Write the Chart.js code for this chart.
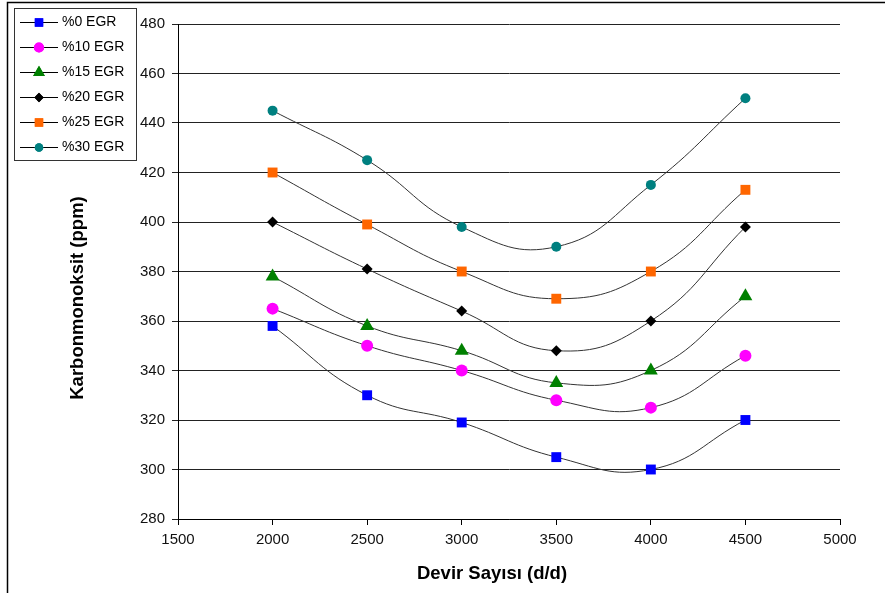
<!DOCTYPE html>
<html><head><meta charset="utf-8">
<script src="https://cdn.jsdelivr.net/npm/chart.js@4"></script>
<style>html,body{margin:0;padding:0;background:#fff}</style>
</head><body>
<canvas id="c" width="885" height="593" style="width:885px;height:593px;display:block"></canvas>
<script>
const rpm = [2000, 2500, 3000, 3500, 4000, 4500];
const seriesLabels = ['%0 EGR', '%10 EGR', '%15 EGR', '%20 EGR', '%25 EGR', '%30 EGR'];
const egr0  = [358, 330, 319, 305, 300, 320];
const egr10 = [365, 350, 340, 328, 325, 346];
const egr15 = [378, 358, 348, 335, 340, 370];
const egr20 = [400, 381, 364, 348, 360, 398];
const egr25 = [420, 399, 380, 369, 380, 413];
const egr30 = [445, 425, 398, 390, 415, 450];
const xTickValues = [1500, 2000, 2500, 3000, 3500, 4000, 4500, 5000];
const yTickValues = [280, 300, 320, 340, 360, 380, 400, 420, 440, 460, 480];
const xTitle = 'Devir Sayısı (d/d)';
const yTitle = 'Karbonmonoksit (ppm)';

const FONT = "'Liberation Sans', Arial, sans-serif";
const styles = [
  {color: '#0000FF', style: 'rect', r: 7},
  {color: '#FF00FF', style: 'circle', r: 6},
  {color: '#008000', style: 'triangle', r: 8},
  {color: '#000000', style: 'rectRot', r: 5.5},
  {color: '#FF6600', style: 'rect', r: 7},
  {color: '#008080', style: 'circle', r: 5}
];
const allSeries = [egr0, egr10, egr15, egr20, egr25, egr30];

const datasets = allSeries.map((vals, i) => ({
  label: seriesLabels[i],
  data: rpm.map((x, j) => ({x: x, y: vals[j]})),
  borderColor: '#333333',
  borderWidth: 1,
  backgroundColor: styles[i].color,
  pointBackgroundColor: styles[i].color,
  pointBorderColor: styles[i].color,
  pointBorderWidth: 0,
  pointStyle: styles[i].style,
  pointRadius: styles[i].r,
  tension: 0.45,
  showLine: true,
  fill: false
}));

const frameAndLegend = {
  id: 'frameAndLegend',
  afterDraw(chart) {
    const ctx = chart.ctx;
    ctx.save();
    ctx.strokeStyle = '#000';
    ctx.lineWidth = 1.5;
    ctx.beginPath();
    ctx.moveTo(7.5, 593);
    ctx.lineTo(7.5, 2.5);
    ctx.lineTo(885, 2.5);
    ctx.stroke();
    // axis titles
    ctx.fillStyle = '#000';
    ctx.font = 'bold 18.5px ' + FONT;
    ctx.textAlign = 'center';
    ctx.textBaseline = 'middle';
    ctx.fillText(xTitle, 492, 574);
    ctx.save();
    ctx.translate(78, 298);
    ctx.rotate(-Math.PI / 2);
    ctx.fillText(yTitle, 0, 0);
    ctx.restore();
    // legend
    ctx.textAlign = 'left';
    ctx.lineWidth = 1;
    ctx.strokeStyle = '#333';
    ctx.strokeRect(14.5, 8.5, 122, 152);
    ctx.font = '14px ' + FONT;
    chart.data.datasets.forEach((ds, i) => {
      const y = 22 + i * 25;
      ctx.strokeStyle = '#000';
      ctx.lineWidth = 1;
      ctx.beginPath();
      ctx.moveTo(20, y + 0.5);
      ctx.lineTo(58, y + 0.5);
      ctx.stroke();
      ctx.fillStyle = ds.pointBackgroundColor;
      ctx.strokeStyle = ds.pointBorderColor;
      Chart.helpers.drawPoint(ctx, {pointStyle: ds.pointStyle, radius: ds.pointRadius * 0.85, rotation: 0, borderWidth: 0}, 39, y + 0.5);
      ctx.fill();
      ctx.fillStyle = '#000';
      ctx.fillText(ds.label, 62, y);
    });
    ctx.restore();
  }
};

new Chart(document.getElementById('c'), {
  type: 'scatter',
  data: {datasets},
  options: {
    responsive: false,
    devicePixelRatio: 1,
    animation: false,
    layout: {padding: {left: 0, top: 24, right: 45, bottom: 0}},
    plugins: {legend: {display: false}, tooltip: {enabled: false}},
    scales: {
      x: {
        type: 'linear',
        min: 1500, max: 5000,
        afterFit(s) { s.height = 74; },
        afterBuildTicks(s) { s.ticks = xTickValues.map(v => ({value: v})); },
        ticks: {color: '#111', font: {family: FONT, size: 15}, padding: 6, maxRotation: 0,
                callback: v => String(v)},
        grid: {drawOnChartArea: false, drawTicks: true, tickLength: 6, color: '#000'},
        border: {display: true, color: '#000', width: 1},
        title: {display: false, text: xTitle}
      },
      y: {
        type: 'linear',
        min: 280, max: 480,
        afterFit(s) { s.width = 178; },
        afterBuildTicks(s) { s.ticks = yTickValues.map(v => ({value: v})); },
        ticks: {color: '#111', font: {family: FONT, size: 15}, padding: 7, callback: v => String(v)},
        grid: {drawOnChartArea: true, drawTicks: true, tickLength: 6, color: '#222', lineWidth: 1},
        border: {display: true, color: '#000', width: 1},
        title: {display: false, text: yTitle}
      }
    }
  },
  plugins: [frameAndLegend]
});
</script>
</body></html>
